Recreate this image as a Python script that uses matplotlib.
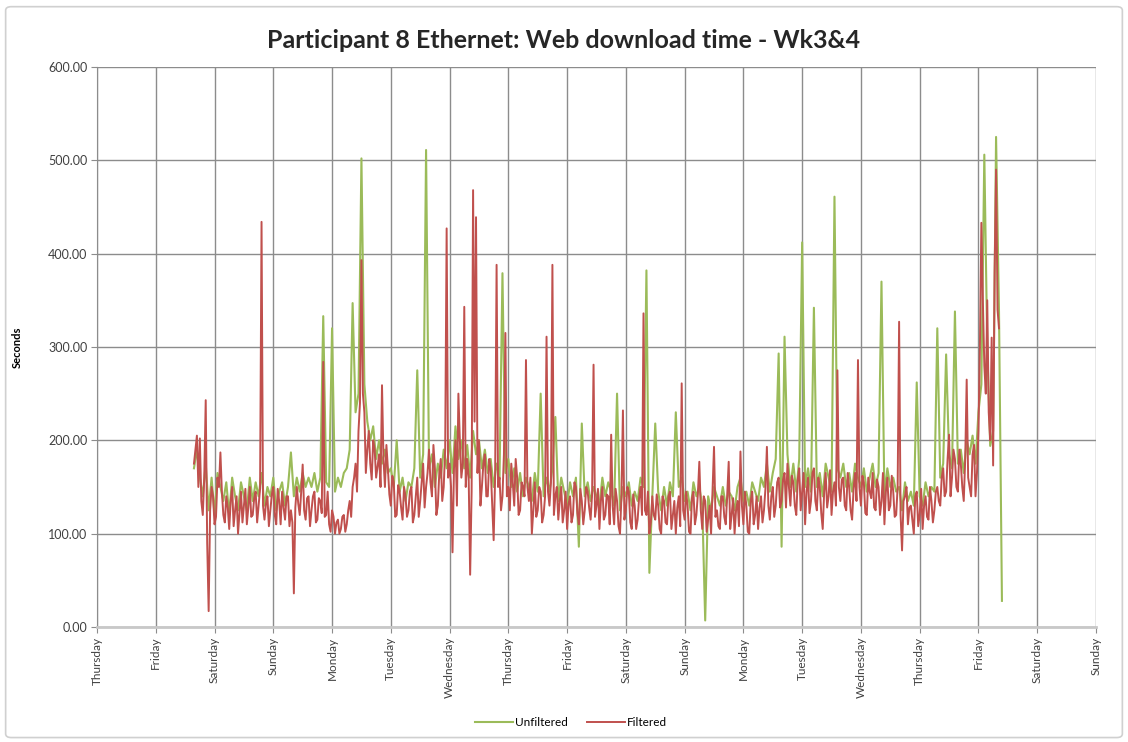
import matplotlib
matplotlib.use("Agg")
import matplotlib.pyplot as plt
import numpy as np
from matplotlib.patches import FancyBboxPatch

# day labels along the x axis (one gridline per day)
day_labels = ["Thursday", "Friday", "Saturday", "Sunday", "Monday", "Tuesday",
              "Wednesday", "Thursday", "Friday", "Saturday", "Sunday", "Monday",
              "Tuesday", "Wednesday", "Thursday", "Friday", "Saturday", "Sunday"]

# samples start Friday afternoon, one reading every 0.05 day (72 min)
start_day = 1.65
sample_step = 0.05

# Filtered download times (seconds), one row per day of samples
filtered = [
    175, 205, 202, 120, 243, 17, 150, 110, 160, 187, 120, 140, 105, 150, 125, 100, 145, 130, 110, 150,
    120, 145, 130, 434, 115, 140, 125, 150, 110, 135, 145, 115, 140, 125, 36, 150, 120, 174, 115, 140,
    125, 145, 115, 135, 284, 120, 110, 125, 100, 115, 105, 120, 110, 135, 150, 175, 210, 393, 230, 190,
    175, 200, 160, 185, 259, 150, 170, 130, 155, 120, 145, 115, 140, 125, 150, 120, 160, 135, 175, 150,
    190, 140, 170, 130, 180, 150, 427, 175, 80, 200, 250, 160, 343, 180, 56, 468, 439, 200, 150, 185,
    140, 170, 93, 388, 160, 140, 315, 150, 175, 130, 160, 125, 150, 286, 135, 100, 155, 125, 145, 120,
    311, 130, 388, 140, 115, 150, 125, 105, 140, 120, 150, 110, 135, 125, 145, 115, 281, 130, 105, 150,
    120, 140, 206, 110, 135, 100, 232, 125, 145, 105, 130, 115, 150, 336, 120, 100, 140, 115, 130, 100,
    135, 110, 145, 120, 100, 140, 261, 115, 130, 100, 145, 120, 177, 105, 135, 115, 100, 193, 125, 105,
    140, 110, 177, 120, 100, 135, 188, 110, 130, 100, 145, 120, 105, 140, 125, 193, 115, 150, 130, 160,
    135, 165, 175, 130, 155, 120, 170, 145, 110, 160, 135, 170, 125, 150, 105, 165, 140, 120, 155, 275,
    135, 160, 125, 150, 115, 165, 286, 130, 155, 120, 145, 165, 125, 150, 135, 110, 160, 130, 145, 120,
    327, 82, 140, 110, 130, 100, 145, 120, 105, 140, 115, 135, 125, 150, 130, 170, 145, 206, 160, 180,
    145, 175, 135, 265, 150, 185, 140, 210, 433, 280, 350, 200, 173, 490, 320,
]

# Filtered readings taken half-way between the samples above
filtered_between = [
    190, 150, 135, 160, 90, 125, 140, 118, 150, 145, 112, 128, 135, 108, 140, 122, 112, 148, 128, 118,
    138, 112, 148, 130, 132, 108, 142, 120, 148, 110, 128, 140, 108, 112, 128, 132, 145, 125, 138, 108,
    140, 112, 138, 122, 118, 145, 102, 118, 112, 100, 118, 102, 125, 118, 160, 145, 240, 250, 165, 210,
    158, 190, 172, 150, 180, 195, 142, 162, 118, 152, 128, 150, 118, 145, 112, 140, 118, 155, 128, 165,
    155, 195, 120, 165, 135, 190, 160, 150, 170, 130, 200, 175, 150, 160, 145, 220, 165, 130, 175, 140,
    180, 130, 160, 150, 125, 185, 140, 125, 155, 180, 120, 155, 140, 150, 160, 125, 118, 150, 112, 140,
    145, 155, 120, 150, 135, 112, 145, 132, 112, 155, 122, 148, 110, 150, 128, 142, 118, 148, 135, 115,
    142, 110, 130, 148, 108, 140, 115, 150, 112, 142, 105, 138, 120, 125, 145, 112, 120, 142, 105, 140,
    112, 140, 105, 135, 128, 108, 125, 145, 102, 138, 110, 142, 125, 140, 102, 130, 145, 118, 108, 140,
    118, 142, 105, 138, 125, 108, 130, 145, 102, 135, 110, 140, 128, 112, 148, 130, 140, 118, 155, 128,
    158, 128, 150, 162, 130, 158, 125, 165, 145, 122, 165, 135, 160, 122, 145, 128, 168, 145, 130, 150,
    158, 130, 165, 125, 148, 135, 150, 162, 122, 160, 138, 128, 158, 120, 165, 145, 125, 162, 118, 150,
    120, 135, 150, 128, 115, 140, 108, 148, 130, 118, 150, 112, 145, 135, 160, 140, 180, 140, 190, 150,
    190, 150, 180, 160, 140, 195, 165, 300, 350, 250, 230, 310, 380, 340,
]

# Unfiltered download times (seconds)
unfiltered = [
    170, 190, 160, 140, 175, 125, 160, 120, 165, 150, 135, 155, 120, 160, 140, 125, 155, 140, 125, 160,
    135, 155, 140, 165, 130, 150, 140, 160, 125, 145, 155, 130, 150, 187, 140, 160, 145, 165, 150, 160,
    150, 165, 145, 160, 333, 155, 150, 320, 145, 160, 150, 165, 170, 190, 347, 230, 250, 502, 260, 220,
    200, 215, 180, 200, 175, 190, 165, 170, 150, 200, 145, 160, 135, 155, 150, 170, 275, 160, 185, 511,
    170, 185, 150, 175, 160, 190, 170, 200, 165, 215, 180, 200, 170, 195, 160, 210, 185, 200, 170, 190,
    165, 180, 150, 175, 160, 379, 165, 180, 150, 170, 145, 165, 140, 160, 150, 135, 165, 145, 250, 140,
    160, 145, 170, 225, 135, 160, 145, 130, 155, 140, 160, 86, 218, 140, 155, 135, 150, 140, 130, 160,
    140, 155, 145, 130, 250, 125, 150, 140, 155, 130, 145, 135, 160, 150, 382, 58, 140, 218, 145, 125,
    150, 130, 155, 140, 230, 150, 160, 135, 145, 125, 155, 140, 150, 130, 7, 140, 125, 150, 140, 130,
    150, 130, 145, 140, 125, 150, 160, 135, 145, 130, 155, 145, 135, 160, 150, 175, 145, 165, 180, 293,
    86, 311, 185, 150, 175, 145, 180, 412, 150, 170, 145, 342, 150, 165, 140, 175, 160, 145, 461, 170,
    160, 175, 150, 165, 145, 175, 160, 150, 170, 145, 160, 175, 150, 165, 370, 140, 170, 150, 160, 145,
    150, 125, 155, 135, 145, 130, 262, 140, 130, 155, 140, 150, 145, 320, 160, 175, 292, 185, 170, 338,
    175, 190, 165, 200, 185, 205, 175, 230, 260, 506, 300, 194, 210, 525, 337, 28,
]

t_unf = start_day + sample_step * np.arange(len(unfiltered))

# merge the two filtered reading sets in time order
t_fil = start_day + sample_step * np.arange(len(filtered))
t_mid = t_fil[:-1] + sample_step / 2
order = np.argsort(np.concatenate([t_fil, t_mid]))
t_fil_all = np.concatenate([t_fil, t_mid])[order]
fil_all = np.concatenate([filtered, filtered_between])[order]

green = "#9bbb59"
red = "#c0504d"
grid_col = "#8c8c8c"

plt.rcParams["font.family"] = ["Lato", "DejaVu Sans"]

fig = plt.figure(figsize=(11.28, 7.42), dpi=100)
ax = fig.add_axes([0.086, 0.155, 0.8856, 0.7548])

# light chart-area border
fig.patches.append(FancyBboxPatch((0.005, 0.006), 0.99, 0.985, boxstyle="round,pad=0,rounding_size=0.005",
                                  transform=fig.transFigure, fill=False, edgecolor="#d0d0d0", lw=1.2))

ax.plot(t_unf, unfiltered, color=green, lw=1.5, label="Unfiltered", zorder=3)
ax.plot(t_fil_all, fil_all, color=red, lw=1.4, label="Filtered", zorder=4)

ax.set_xlim(0, len(day_labels) - 1)
ax.set_ylim(0, 600)
ax.set_xticks(np.arange(len(day_labels)))
ax.set_xticklabels(day_labels, rotation=90, fontsize=8.5, color="#404040")
ax.set_yticks(np.arange(0, 601, 100))
ax.set_yticklabels(["%.2f" % v for v in np.arange(0, 601, 100)], fontsize=9, color="#404040")
ax.grid(True, color=grid_col, lw=1.0, zorder=0)
ax.set_axisbelow(True)
for s in ["top", "right"]:
    ax.spines[s].set_visible(False)
ax.spines["left"].set_color(grid_col)
ax.spines["bottom"].set_color("#c8c8c8")
ax.spines["bottom"].set_linewidth(2.0)
ax.tick_params(axis="both", length=4, color=grid_col, pad=3)

ax.set_ylabel("Seconds", fontsize=8, fontweight="bold", labelpad=18)
fig.text(0.5, 0.945, "Participant 8 Ethernet: Web download time - Wk3&4",
         ha="center", va="center", fontsize=18, fontweight="bold", color="#262626")

ax.legend(loc="center", bbox_to_anchor=(0.4745, -0.171), ncol=2, frameon=False,
          fontsize=8.5, handlelength=3.2, columnspacing=1.6, handletextpad=0.2)

fig.savefig("out.png", dpi=100)
